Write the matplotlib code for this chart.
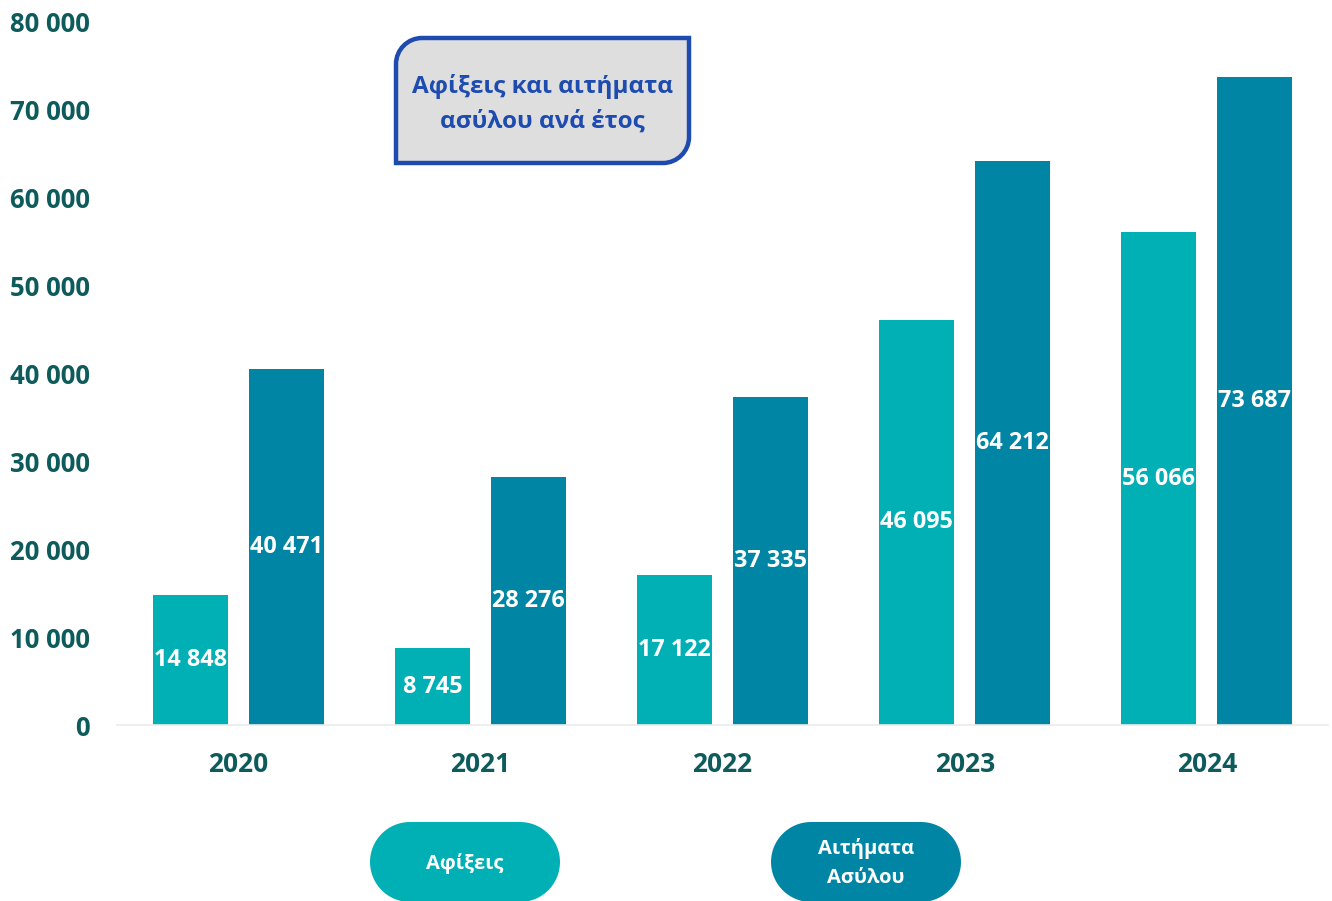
import numpy as np
import matplotlib
matplotlib.use("Agg")
import matplotlib.pyplot as plt
from matplotlib.path import Path
from matplotlib.patches import PathPatch, Polygon
from matplotlib.ticker import FuncFormatter

plt.rcParams['font.family'] = ['Open Sans', 'DejaVu Sans']

# Data
years = ['2020', '2021', '2022', '2023', '2024']
arrivals = [14848, 8745, 17122, 46095, 56066]
asylum = [40471, 28276, 37335, 64212, 73687]
series_names = ['Αφίξεις', 'Αιτήματα\nΑσύλου']
title = 'Αφίξεις και αιτήματα\nασύλου ανά έτος'

# Colours
C_ARR = '#00B0B5'
C_ASY = '#0086A4'
C_TXT = '#0D5B5B'
C_BLUE = '#1E4BAF'


def fmt(v):
    return f"{int(v):,}".replace(",", " ")


fig = plt.figure(figsize=(13.32, 9.01), dpi=100)
ax = fig.add_axes([117/1332, 176/901, 1211/1332, 703/901])

x = np.arange(len(years))
w = 0.31
off = 0.198
b1 = ax.bar(x - off, arrivals, w, color=C_ARR, zorder=2)
b2 = ax.bar(x + off, asylum, w, color=C_ASY, zorder=2)

for bars, vals in ((b1, arrivals), (b2, asylum)):
    for r, v in zip(bars, vals):
        ax.text(r.get_x() + r.get_width()/2, v/2, fmt(v), ha='center',
                va='center', color='white', fontsize=16.8, fontweight='bold',
                zorder=3)

ax.set_xlim(-0.5, 4.5)
ax.set_ylim(0, 80000)
ax.set_yticks(np.arange(0, 80001, 10000))
ax.yaxis.set_major_formatter(FuncFormatter(lambda v, p: fmt(v)))
ax.set_xticks(x)
ax.set_xticklabels(years)
for lab in ax.get_yticklabels() + ax.get_xticklabels():
    lab.set_fontweight('bold')
    lab.set_color(C_TXT)
ax.tick_params(axis='y', length=0, pad=19.5, labelsize=18.5)
ax.tick_params(axis='x', length=0, pad=19, labelsize=19)
for s in ('top', 'right', 'left'):
    ax.spines[s].set_visible(False)
ax.spines['bottom'].set_color('#EBEBEB')
ax.spines['bottom'].set_linewidth(1.2)

#----------------   Overlay in pixel units (title, legend)   ----------------#
ov = fig.add_axes([0, 0, 1, 1], facecolor='none')
ov.set_xlim(0, 1332)
ov.set_ylim(0, 901)
ov.axis('off')

# Title box: rounded top-left and bottom-right corners only
x0, x1, y0, y1, r = 396, 689, 901-163, 901-38, 26
k = 0.55 * r
verts = [
    (x0, y0), (x1 - r, y0),
    (x1 - r + k, y0), (x1, y0 + r - k), (x1, y0 + r),
    (x1, y1), (x0 + r, y1),
    (x0 + r - k, y1), (x0, y1 - r + k), (x0, y1 - r),
    (x0, y0), (x0, y0)]
codes = [Path.MOVETO, Path.LINETO,
         Path.CURVE4, Path.CURVE4, Path.CURVE4,
         Path.LINETO, Path.LINETO,
         Path.CURVE4, Path.CURVE4, Path.CURVE4,
         Path.LINETO, Path.CLOSEPOLY]
ov.add_patch(PathPatch(Path(verts, codes), facecolor='#DEDEDE',
                       edgecolor=C_BLUE, linewidth=3.2))
ov.text((x0 + x1)/2, 901 - 104, title, ha='center', va='center',
        color=C_BLUE, fontsize=17.5, fontweight='bold', linespacing=1.6)


# Legend pills with semicircular ends
def pill(xl, xr, yc, h):
    rad = h / 2
    t = np.linspace(np.pi/2, 3*np.pi/2, 40)
    left = np.column_stack([xl + rad + rad*np.cos(t), yc + rad*np.sin(t)])
    right = np.column_stack([xr - rad - rad*np.cos(t), yc - rad*np.sin(t)])
    return np.vstack([left, right])


for (px, col), name in zip(((370, C_ARR), (771, C_ASY)), series_names):
    ov.add_patch(Polygon(pill(px, px + 190, 901 - 862, 80), closed=True,
                         facecolor=col, edgecolor='none'))
    ov.text(px + 95, 901 - 863, name, ha='center', va='center',
            color='white', fontsize=14.5, fontweight='bold', linespacing=1.55)

fig.savefig('out.png', dpi=100)
